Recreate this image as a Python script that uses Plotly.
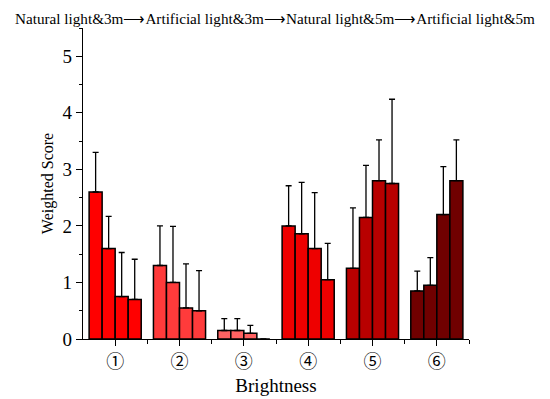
import plotly.graph_objects as go

categories = [1, 2, 3, 4, 5, 6]
tick_labels = ["①", "②", "③", "④", "⑤", "⑥"]
series_names = ["Natural light&3m", "Artificial light&3m", "Natural light&5m", "Artificial light&5m"]

# mean values per series (one value per brightness level)
s1 = [2.60, 1.30, 0.15, 2.00, 1.25, 0.85]
s2 = [1.60, 1.00, 0.15, 1.86, 2.15, 0.95]
s3 = [0.75, 0.55, 0.10, 1.60, 2.80, 2.20]
s4 = [0.70, 0.50, 0.00, 1.05, 2.75, 2.80]
# upper ends of the error bars
u1 = [3.30, 2.00, 0.36, 2.71, 2.32, 1.20]
u2 = [2.17, 1.99, 0.36, 2.77, 3.07, 1.44]
u3 = [1.53, 1.33, 0.24, 2.59, 3.52, 3.05]
u4 = [1.41, 1.21, 0.00, 1.69, 4.24, 3.52]

group_colors = ["#ff0000", "#ff3b3b", "#ff6262", "#ee0000", "#b80000", "#700000"]

fig = go.Figure()
for name, vals, ups in zip(series_names, [s1, s2, s3, s4], [u1, u2, u3, u4]):
    plus = [u - v for u, v in zip(ups, vals)]
    fig.add_trace(go.Bar(
        x=categories, y=vals, name=name,
        marker=dict(color=group_colors, line=dict(color="black", width=1.5)),
        error_y=dict(type="data", symmetric=False, array=plus,
                     arrayminus=[0] * len(vals), color="black",
                     thickness=1.3, width=3),
        showlegend=False,
    ))

title_text = "⟶".join(series_names)

L, R = 75, 89
fig.update_layout(
    width=550, height=399,
    margin=dict(l=L, r=R, t=20, b=68),
    plot_bgcolor="white", paper_bgcolor="white",
    barmode="group", bargap=0.19, bargroupgap=0,
    font=dict(family="Liberation Serif", color="black"),
)
plot_w = 550 - L - R
fig.add_annotation(text=title_text, xref="paper", yref="paper", x=0.5, y=1,
                   xshift=(267 - (L + plot_w / 2)), yshift=10, xanchor="center", yanchor="middle",
                   showarrow=False, borderpad=0,
                   font=dict(family="Liberation Serif", size=15.2, color="black"))

fig.update_xaxes(
    range=[0.5, 6.5], tickvals=categories, ticktext=tick_labels,
    showline=True, linecolor="black", linewidth=1.2,
    ticks="outside", ticklen=6, tickcolor="black",
    minor=dict(tickvals=[1.5, 2.5, 3.5, 4.5, 5.5, 6.5], ticks="outside", ticklen=4, tickcolor="black"),
    showgrid=False, zeroline=False,
    tickfont=dict(size=18, family="Noto Sans CJK JP"),
    title=dict(text="Brightness", font=dict(size=19), standoff=6),
)
fig.update_yaxes(
    range=[0, 5.5], tickvals=[0, 1, 2, 3, 4, 5],
    showline=True, linecolor="black", linewidth=1.2,
    ticks="outside", ticklen=6, tickcolor="black",
    minor=dict(dtick=0.5, tick0=0, ticks="outside", ticklen=3, tickcolor="black"),
    showgrid=False, zeroline=False,
    tickfont=dict(size=19),
    title=dict(text="Weighted Score", font=dict(size=16), standoff=4),
)

fig.write_html("out.html")
